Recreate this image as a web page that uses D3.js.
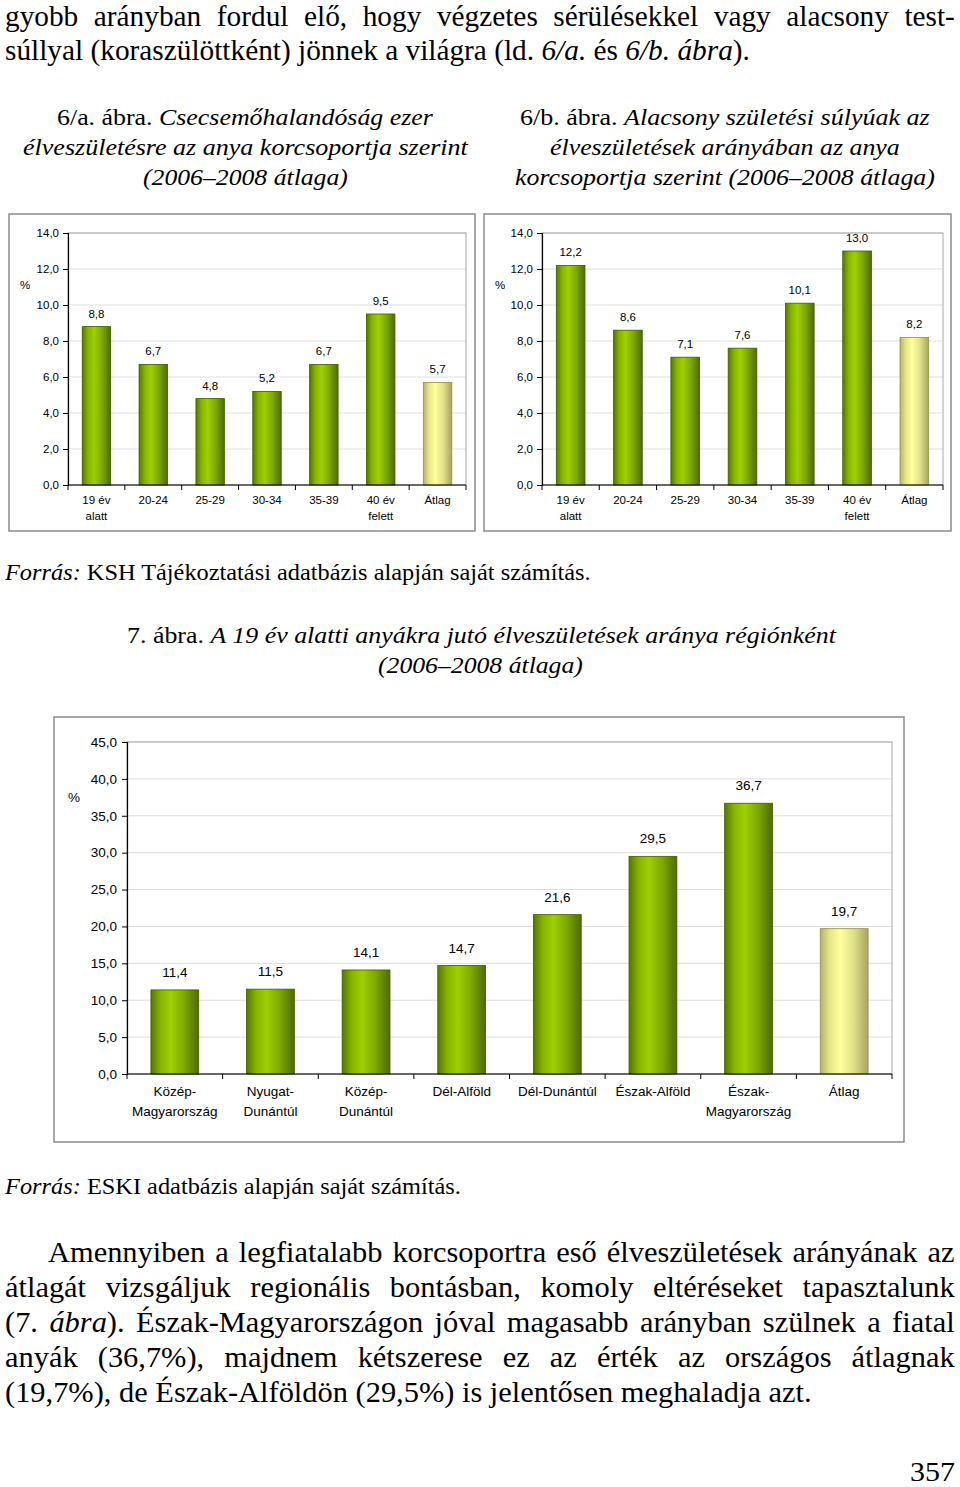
<!DOCTYPE html>
<html>
<head>
<meta charset="utf-8">
<script src="https://cdn.jsdelivr.net/npm/d3@7"></script>
<style>
  html, body { margin: 0; padding: 0; background: #fff; }
  svg { display: block; }
</style>
</head>
<body>
<svg id="page" width="960" height="1487"></svg>
<script>
// ---------- DATA ----------
const ageCategories = ["19 év\nalatt", "20-24", "25-29", "30-34", "35-39", "40 év\nfelett", "Átlag"];
const infantMortality = [8.8, 6.7, 4.8, 5.2, 6.7, 9.5, 5.7];
const lowBirthWeight = [12.2, 8.6, 7.1, 7.6, 10.1, 13.0, 8.2];
const ageTicks = [0, 2, 4, 6, 8, 10, 12, 14];

const regionCategories = ["Közép-\nMagyarország", "Nyugat-\nDunántúl", "Közép-\nDunántúl", "Dél-Alföld",
  "Dél-Dunántúl", "Észak-Alföld", "Észak-\nMagyarország", "Átlag"];
const teenBirthShare = [11.4, 11.5, 14.1, 14.7, 21.6, 29.5, 36.7, 19.7];
const regionTicks = [0, 5, 10, 15, 20, 25, 30, 35, 40, 45];

// ---------- SETUP ----------
const svg = d3.select("#page");
svg.append("rect").attr("width", 960).attr("height", 1487).attr("fill", "#fff");
const fmt = v => d3.format(".1f")(v).replace(".", ",");

const defs = svg.append("defs");
function gradient(id, stops) {
  const g = defs.append("linearGradient").attr("id", id)
    .attr("x1", "0%").attr("x2", "100%").attr("y1", "0%").attr("y2", "0%");
  stops.forEach(([o, c]) => g.append("stop").attr("offset", o).attr("stop-color", c));
}
gradient("gGreen", [["0%", "#557800"], ["20%", "#86b400"], ["42%", "#9fd000"], ["70%", "#7ca800"], ["100%", "#4c6c00"]]);
gradient("gYellow", [["0%", "#b4b46a"], ["20%", "#e6e68a"], ["42%", "#ffff9c"], ["70%", "#e0e088"], ["100%", "#a6a660"]]);

const SERIF = "'Liberation Serif', 'Times New Roman', serif";
const SANS = "'Liberation Sans', Arial, sans-serif";

// ---------- TEXT HELPER ----------
// parts: [[text, italic], ...]; returns horizontal scale used
function textLine(opts) {
  const { x, y, parts, fs, width, justify, sx: sx0 } = opts;
  const t = svg.append("text")
    .attr("font-family", SERIF).attr("font-size", fs).attr("fill", "#000")
    .attr("transform", `translate(${x},${y})`);
  parts.forEach(([s, it]) => t.append("tspan").attr("font-style", it ? "italic" : "normal").text(s));
  const w = t.node().getComputedTextLength();
  let sx;
  if (justify) {
    sx = sx0;
    const full = parts.map(p => p[0]).join("");
    const spaces = (full.match(/ /g) || []).length;
    let ws = (width / sx - w) / spaces;
    if (ws < 0) { sx = width / w; ws = 0; }
    t.attr("word-spacing", ws);
  } else {
    sx = width / w;
  }
  t.attr("transform", `translate(${x},${y}) scale(${sx},1)`);
  return sx;
}

// ---------- BAR CHART ----------
function barChart(cfg) {
  const g = svg.append("g");
  g.append("rect").attr("x", cfg.frame.x).attr("y", cfg.frame.y)
    .attr("width", cfg.frame.w).attr("height", cfg.frame.h)
    .attr("fill", "#fff").attr("stroke", "#8c8c8c").attr("stroke-width", 1.5);

  const p = cfg.plot;
  const x = d3.scaleBand().domain(cfg.categories).range([p.x, p.x + p.w]).paddingInner(0.5).paddingOuter(0.25);
  const y = d3.scaleLinear().domain([0, cfg.yMax]).range([p.y + p.h, p.y]);

  g.append("g").selectAll("line").data(cfg.ticks.filter(t => t > 0)).join("line")
    .attr("x1", p.x).attr("x2", p.x + p.w)
    .attr("y1", d => y(d)).attr("y2", d => y(d))
    .attr("stroke", "#dedede").attr("stroke-width", 1);
  g.append("rect").attr("x", p.x).attr("y", p.y).attr("width", p.w).attr("height", p.h)
    .attr("fill", "none").attr("stroke", "#a6a6a6").attr("stroke-width", 1);

  g.append("g").selectAll("rect").data(cfg.values).join("rect")
    .attr("x", (d, i) => x(cfg.categories[i]))
    .attr("width", x.bandwidth())
    .attr("y", d => y(d))
    .attr("height", d => y(0) - y(d))
    .attr("fill", (d, i) => i === cfg.values.length - 1 ? "url(#gYellow)" : "url(#gGreen)")
    .attr("stroke", (d, i) => i === cfg.values.length - 1 ? "#8f8f55" : "#3f5a00")
    .attr("stroke-width", 0.8);

  g.append("g").selectAll("text").data(cfg.values).join("text")
    .attr("x", (d, i) => x(cfg.categories[i]) + x.bandwidth() / 2)
    .attr("y", d => y(d) - cfg.labelGap)
    .attr("text-anchor", "middle")
    .attr("font-family", SANS).attr("font-size", cfg.fs).attr("fill", "#000")
    .text(d => fmt(d));

  const ya = g.append("g").attr("transform", `translate(${p.x},0)`)
    .call(d3.axisLeft(y).tickValues(cfg.ticks).tickSize(5).tickPadding(cfg.tickPad).tickFormat(fmt));
  ya.select(".domain").attr("stroke", "#000").attr("stroke-width", 1.2);
  ya.selectAll(".tick line").attr("stroke", "#000");
  ya.selectAll(".tick text").attr("font-family", SANS).attr("font-size", cfg.fs).attr("fill", "#000");

  const xa = g.append("g").attr("transform", `translate(0,${p.y + p.h})`);
  xa.append("line").attr("x1", p.x).attr("x2", p.x + p.w).attr("stroke", "#000").attr("stroke-width", 1.2);
  const bounds = d3.range(cfg.categories.length + 1).map(i => p.x + i * p.w / cfg.categories.length);
  xa.selectAll("line.tk").data(bounds).join("line").attr("class", "tk")
    .attr("x1", d => d).attr("x2", d => d).attr("y1", 0).attr("y2", 5)
    .attr("stroke", "#000").attr("stroke-width", 1);
  cfg.categories.forEach(c => {
    const t = xa.append("text")
      .attr("x", x(c) + x.bandwidth() / 2)
      .attr("text-anchor", "middle")
      .attr("font-family", SANS).attr("font-size", cfg.catFs).attr("fill", "#000");
    c.split("\n").forEach((ln, j) => {
      t.append("tspan").attr("x", x(c) + x.bandwidth() / 2)
        .attr("y", cfg.catY + j * cfg.catLh).text(ln);
    });
  });

  g.append("text").attr("x", cfg.pct.x).attr("y", cfg.pct.y).attr("text-anchor", "middle")
    .attr("font-family", SANS).attr("font-size", cfg.fs).attr("fill", "#000").text("%");
}

barChart({
  frame: { x: 9, y: 214, w: 466, h: 317 },
  plot: { x: 68, y: 233, w: 398, h: 252 },
  categories: ageCategories, values: infantMortality, ticks: ageTicks, yMax: 14,
  fs: 11.5, catFs: 11.5, catY: 19, catLh: 16, labelGap: 9, tickPad: 4,
  pct: { x: 25, y: 289 }
});
barChart({
  frame: { x: 484, y: 214, w: 467, h: 317 },
  plot: { x: 542, y: 233, w: 401, h: 252 },
  categories: ageCategories, values: lowBirthWeight, ticks: ageTicks, yMax: 14,
  fs: 11.5, catFs: 11.5, catY: 19, catLh: 16, labelGap: 9, tickPad: 4,
  pct: { x: 500, y: 289 }
});
barChart({
  frame: { x: 54, y: 717, w: 850, h: 425 },
  plot: { x: 127, y: 742, w: 765, h: 332 },
  categories: regionCategories, values: teenBirthShare, ticks: regionTicks, yMax: 45,
  fs: 13.5, catFs: 13.5, catY: 22, catLh: 20, labelGap: 13, tickPad: 5,
  pct: { x: 74, y: 802 }
});

// ---------- PAGE TEXT ----------
const topSx = textLine({ x: 5, y: 60, fs: 30, width: 745,
  parts: [["súllyal (koraszülöttként) jönnek a világra (ld. ", false], ["6/a.", true], [" és ", false], ["6/b. ábra", true], [").", false]] });
textLine({ x: 5, y: 26, fs: 30, width: 950, justify: true, sx: topSx,
  parts: [["gyobb arányban fordul elő, hogy végzetes sérülésekkel vagy alacsony test-", false]] });

textLine({ x: 57, y: 125, fs: 24, width: 376, parts: [["6/a. ábra. ", false], ["Csecsemőhalandóság ezer", true]] });
textLine({ x: 23, y: 155, fs: 24, width: 445, parts: [["élveszületésre az anya korcsoportja szerint", true]] });
textLine({ x: 143, y: 185, fs: 24, width: 205, parts: [["(2006–2008 átlaga)", true]] });

textLine({ x: 520, y: 125, fs: 24, width: 410, parts: [["6/b. ábra. ", false], ["Alacsony születési súlyúak az", true]] });
textLine({ x: 550, y: 155, fs: 24, width: 350, parts: [["élveszületések arányában az anya", true]] });
textLine({ x: 515, y: 185, fs: 24, width: 420, parts: [["korcsoportja szerint (2006–2008 átlaga)", true]] });

textLine({ x: 5, y: 580, fs: 23, width: 586, parts: [["Forrás:", true], [" KSH Tájékoztatási adatbázis alapján saját számítás.", false]] });

textLine({ x: 127, y: 643, fs: 24, width: 709, parts: [["7. ábra. ", false], ["A 19 év alatti anyákra jutó élveszületések aránya régiónként", true]] });
textLine({ x: 378, y: 673, fs: 24, width: 205, parts: [["(2006–2008 átlaga)", true]] });

textLine({ x: 5, y: 1194, fs: 23, width: 456, parts: [["Forrás:", true], [" ESKI adatbázis alapján saját számítás.", false]] });

const paraSx = textLine({ x: 5, y: 1402, fs: 30, width: 807,
  parts: [["(19,7%), de Észak-Alföldön (29,5%) is jelentősen meghaladja azt.", false]] });
textLine({ x: 48, y: 1262, fs: 30, width: 907, justify: true, sx: paraSx,
  parts: [["Amennyiben a legfiatalabb korcsoportra eső élveszületések arányának az", false]] });
textLine({ x: 5, y: 1297, fs: 30, width: 950, justify: true, sx: paraSx,
  parts: [["átlagát vizsgáljuk regionális bontásban, komoly eltéréseket tapasztalunk", false]] });
textLine({ x: 5, y: 1332, fs: 30, width: 950, justify: true, sx: paraSx,
  parts: [["(7. ", false], ["ábra", true], ["). Észak-Magyarországon jóval magasabb arányban szülnek a fiatal", false]] });
textLine({ x: 5, y: 1367, fs: 30, width: 950, justify: true, sx: paraSx,
  parts: [["anyák (36,7%), majdnem kétszerese ez az érték az országos átlagnak", false]] });

textLine({ x: 910, y: 1481, fs: 28, width: 45, parts: [["357", false]] });
</script>
</body>
</html>
